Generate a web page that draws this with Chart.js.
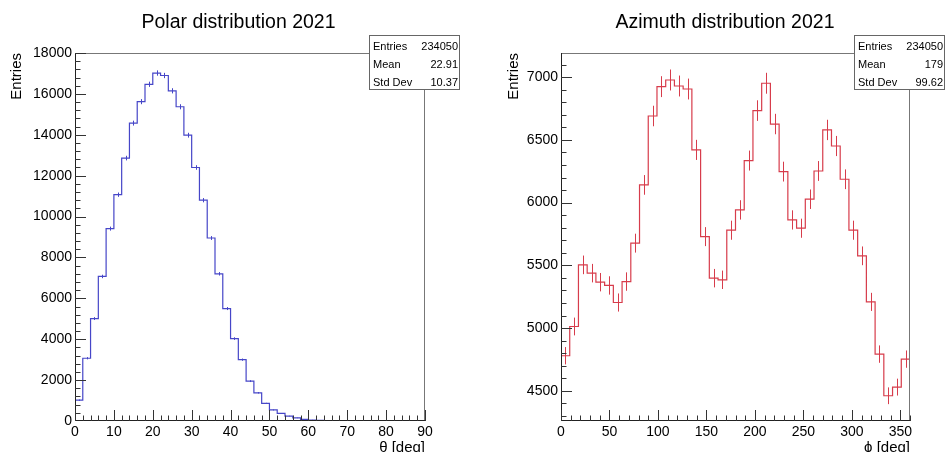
<!DOCTYPE html>
<html>
<head>
<meta charset="utf-8">
<script src="https://cdn.jsdelivr.net/npm/chart.js@4/dist/chart.umd.min.js"></script>
<style>
  html, body { margin: 0; padding: 0; background: #fff; width: 945px; height: 452px; overflow: hidden; }
  canvas { position: absolute; top: 0; display: block; }
  #polar { left: 0; }
  #azim { left: 472px; }
</style>
</head>
<body>
<canvas id="polar" width="472" height="452"></canvas>
<canvas id="azim" width="473" height="452"></canvas>
<script>
// ---------------- DATA ----------------
// Polar histogram: bin low edges (deg), bin width 2
const polarBinLow = [0,2,4,6,8,10,12,14,16,18,20,22,24,26,28,30,32,34,36,38,40,42,44,46,48,50,52,54,56,58,60,62,64,66,68,70,72,74,76,78,80,82,84,86,88];
const polarBinWidth = 2;
const polarCounts = [1020,3070,5010,7070,9410,11070,12860,14570,15620,16470,17020,16900,16150,15370,13980,12400,10800,8950,7200,5500,4030,3000,1950,1380,860,540,370,240,150,80,50,30,20,10,5,3,1,0,0,0,0,0,0,0,0];
const polarYTicks = [0,2000,4000,6000,8000,10000,12000,14000,16000,18000];
const polarXTicks = [0,10,20,30,40,50,60,70,80,90];

// Azimuth histogram: bin low edges (deg), bin width 9
const azimBinLow = [0,9,18,27,36,45,54,63,72,81,90,99,108,117,126,135,144,153,162,171,180,189,198,207,216,225,234,243,252,261,270,279,288,297,306,315,324,333,342,351];
const azimBinWidth = 9;
const azimCounts = [4780,5013,5504,5438,5366,5340,5204,5371,5677,6141,6690,6924,6977,6929,6905,6420,5729,5398,5385,5780,5942,6335,6733,6951,6626,6247,5862,5796,6027,6252,6579,6451,6186,5780,5576,5209,4793,4461,4530,4753];
const azimYTicks = [4500,5000,5500,6000,6500,7000];
const azimXTicks = [0,50,100,150,200,250,300,350];

const statLabels = ['Entries','Mean','Std Dev'];
const polarStats = ['234050','22.91','10.37'];
const azimStats = ['234050','179','99.62'];

const polarTitle = 'Polar distribution 2021';
const azimTitle = 'Azimuth distribution 2021';
const polarXTitle = 'θ [deg]';
const azimXTitle = 'ϕ [deg]';
const yTitle = 'Entries';

// ---------------- HELPERS ----------------
const FONT = "'Liberation Sans', Arial, Helvetica, sans-serif";

function stepPoints(lows, width, counts, fromZero) {
  const pts = [];
  if (fromZero) pts.push({x: lows[0], y: 0});
  for (let i = 0; i < lows.length; i++) pts.push({x: lows[i], y: counts[i]});
  const last = lows.length - 1;
  pts.push({x: lows[last] + width, y: counts[last]});
  if (fromZero) pts.push({x: lows[last] + width, y: 0});
  return pts;
}

function makePlugin(cfg) {
  return {
    id: 'rootStyle_' + cfg.id,
    afterDatasetsDraw(chart) {
      const ctx = chart.ctx;
      const xs = chart.scales.x, ys = chart.scales.y;
      const a = chart.chartArea;
      ctx.save();
      ctx.strokeStyle = cfg.color;
      ctx.lineWidth = 1;
      ctx.beginPath();
      for (let i = 0; i < cfg.lows.length; i++) {
        const v = cfg.counts[i];
        if (v <= 0) continue;
        const e = Math.sqrt(v);
        const px = Math.round(xs.getPixelForValue(cfg.lows[i] + cfg.width / 2)) + 0.5;
        const y1 = Math.max(ys.getPixelForValue(v + e), a.top);
        const y2 = Math.min(ys.getPixelForValue(v - e), a.bottom);
        ctx.moveTo(px, y1);
        ctx.lineTo(px, y2);
      }
      ctx.stroke();
      ctx.restore();
    },
    afterDraw(chart) {
      const ctx = chart.ctx;
      const xs = chart.scales.x, ys = chart.scales.y;
      const a = chart.chartArea;
      ctx.save();
      // frame
      ctx.lineWidth = 1;
      ctx.strokeStyle = '#777';
      ctx.beginPath();
      ctx.moveTo(a.left, a.top + 0.5);
      ctx.lineTo(a.right, a.top + 0.5);
      ctx.moveTo(a.right - 0.5, a.top);
      ctx.lineTo(a.right - 0.5, a.bottom);
      ctx.stroke();
      ctx.strokeStyle = '#222';
      ctx.beginPath();
      ctx.moveTo(a.left + 0.5, a.top);
      ctx.lineTo(a.left + 0.5, a.bottom);
      ctx.moveTo(a.left, a.bottom - 0.5);
      ctx.lineTo(a.right, a.bottom - 0.5);
      ctx.stroke();
      // ticks (inside)
      ctx.strokeStyle = '#333';
      ctx.beginPath();
      const majL = 11, minL = 5.5;
      for (let v = cfg.yMinorStart; v <= ys.max + 1e-9; v += cfg.yMinor) {
        const py = Math.round(ys.getPixelForValue(v)) + 0.5;
        if (py < a.top || py > a.bottom) continue;
        const q = (v - cfg.yMajorRef) / cfg.yMajor;
        const isMaj = Math.abs(q - Math.round(q)) < 1e-6;
        ctx.moveTo(a.left, py);
        ctx.lineTo(a.left + (isMaj ? majL : minL), py);
      }
      for (let v = xs.min; v <= xs.max + 1e-9; v += cfg.xMinor) {
        const px = Math.round(xs.getPixelForValue(v)) + 0.5;
        const q = v / cfg.xMajor;
        const isMaj = Math.abs(q - Math.round(q)) < 1e-6;
        ctx.moveTo(px, a.bottom);
        ctx.lineTo(px, a.bottom - (isMaj ? majL : minL));
      }
      ctx.stroke();
      // title
      ctx.fillStyle = '#000';
      ctx.font = '19.5px ' + FONT;
      ctx.textAlign = 'center';
      ctx.textBaseline = 'alphabetic';
      ctx.fillText(cfg.title, cfg.titleX, 28);
      // stat box
      const bx = cfg.boxX, by = 35, bw = cfg.boxW, bh = 55;
      ctx.fillStyle = '#fff';
      ctx.fillRect(bx, by, bw, bh);
      ctx.strokeStyle = '#666';
      ctx.strokeRect(bx + 0.5, by + 0.5, bw - 1, bh - 1);
      ctx.fillStyle = '#000';
      ctx.font = '11px ' + FONT;
      const rows = [50, 68.3, 86];
      for (let i = 0; i < statLabels.length; i++) {
        ctx.textAlign = 'left';
        ctx.fillText(statLabels[i], bx + 4, rows[i]);
        ctx.textAlign = 'right';
        ctx.fillText(cfg.stats[i], bx + bw - 2, rows[i]);
      }
      ctx.restore();
    }
  };
}

function makeChart(cfg) {
  return new Chart(document.getElementById(cfg.id), {
    type: 'line',
    data: {
      datasets: [{
        data: stepPoints(cfg.lows, cfg.width, cfg.counts, cfg.fromZero),
        borderColor: cfg.color,
        borderWidth: 1.2,
        pointRadius: 0,
        fill: false,
        stepped: 'before',
        tension: 0
      }]
    },
    options: {
      responsive: false,
      animation: false,
      devicePixelRatio: 1,
      events: [],
      layout: { padding: { top: 53, right: cfg.padRight, left: 0, bottom: 0 } },
      plugins: { legend: { display: false }, tooltip: { enabled: false }, title: { display: false } },
      scales: {
        x: {
          type: 'linear',
          min: cfg.xMin, max: cfg.xMax,
          grid: { display: false, drawTicks: false, tickLength: 0 },
          border: { display: false },
          afterFit(s) { s.height = 31; },
          afterBuildTicks(s) { s.ticks = cfg.xTicks.map(v => ({ value: v })); },
          ticks: {
            color: '#000', padding: 3, maxRotation: 0, autoSkip: false,
            font: { family: FONT, size: 14 },
            callback: v => String(v)
          },
          title: {
            display: true, text: cfg.xTitle, align: 'end', color: '#000',
            font: { family: FONT, size: 15 }, padding: { top: 0, bottom: -5 }
          }
        },
        y: {
          type: 'linear',
          min: cfg.yMin, max: cfg.yMax,
          grid: { display: false, drawTicks: false, tickLength: 0 },
          border: { display: false },
          afterFit(s) { s.width = cfg.yWidth; },
          afterBuildTicks(s) { s.ticks = cfg.yTicks.map(v => ({ value: v })); },
          ticks: {
            color: '#000', padding: 3, autoSkip: false,
            font: { family: FONT, size: 14 },
            callback: v => String(v)
          },
          title: {
            display: true, text: yTitle, align: 'end', color: '#000',
            font: { family: FONT, size: 15 }, padding: { top: cfg.yTitlePad, bottom: 0 }
          }
        }
      }
    },
    plugins: [makePlugin(cfg)]
  });
}

makeChart({
  id: 'polar', lows: polarBinLow, width: polarBinWidth, counts: polarCounts, fromZero: true,
  color: 'rgb(70,70,200)', xMin: 0, xMax: 90, yMin: 0, yMax: 18000,
  xTicks: polarXTicks, yTicks: polarYTicks, xTitle: polarXTitle,
  yWidth: 75, padRight: 47, yTitlePad: 8,
  yMinor: 400, yMinorStart: 0, yMajor: 2000, yMajorRef: 0, xMinor: 2, xMajor: 10,
  title: polarTitle, titleX: 238.5, stats: polarStats, boxX: 369, boxW: 91
});

makeChart({
  id: 'azim', lows: azimBinLow, width: azimBinWidth, counts: azimCounts, fromZero: false,
  color: 'rgb(215,60,75)', xMin: 0, xMax: 360, yMin: 4260, yMax: 7192,
  xTicks: azimXTicks, yTicks: azimYTicks, xTitle: azimXTitle,
  yWidth: 89, padRight: 35, yTitlePad: 33,
  yMinor: 100, yMinorStart: 4300, yMajor: 500, yMajorRef: 4500, xMinor: 10, xMajor: 50,
  title: azimTitle, titleX: 725 - 472, stats: azimStats, boxX: 854 - 472, boxW: 91
});
</script>
</body>
</html>
